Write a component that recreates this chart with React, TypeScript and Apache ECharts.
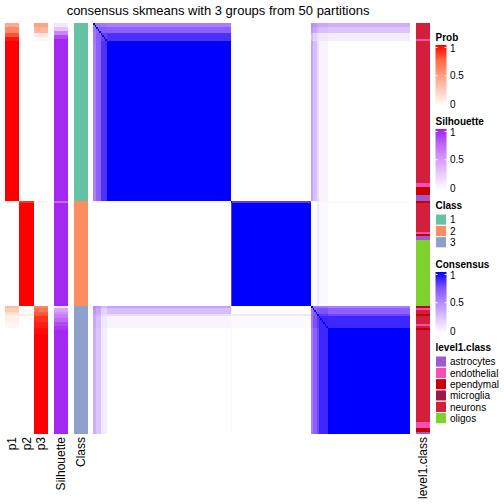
import React, { useEffect, useRef } from "react";
import * as echarts from "echarts";

const FONT = "'Liberation Sans', Arial, Helvetica, sans-serif";
const TITLE = "consensus skmeans with 3 groups from 50 partitions";

// 205 samples in heatmap order; runs are [count, value]
const N = 205;
const probLabels = ["p1", "p2", "p3"];
const p1Runs: [number, number][] = [
  [2, 0.45], [3, 0.6], [2, 0.8], [2, 0.95], [80, 1],
  [1, 0.08], [51, 0],
  [1, 0.35], [2, 0.27], [1, 0.18], [1, 0.12], [3, 0.08], [3, 0.05], [53, 0],
];
const p2Runs: [number, number][] = [
  [89, 0],
  [1, 0.88], [51, 1],
  [4, 0], [1, 0.1], [59, 0],
];
const p3Runs: [number, number][] = [
  [2, 0.48], [3, 0.38], [2, 0.12], [2, 0.04], [80, 0],
  [1, 0.06], [51, 0],
  [1, 0.62], [2, 0.7], [1, 0.78], [1, 0.8], [3, 0.88], [3, 0.93], [3, 0.97], [50, 1],
];
const silhouetteRuns: [number, number][] = [
  [2, 0.12], [2, 0.3], [2, 0.6], [2, 0.85], [81, 0.97],
  [1, 0.72], [51, 0.97],
  [1, 0.1], [2, 0.45], [1, 0.55], [2, 0.65], [2, 0.75], [2, 0.85], [2, 0.92], [52, 0.97],
];
const classNames = ["1", "2", "3"];
const classColors = ["#66C2A5", "#FC8D62", "#8DA0CB"];
const classRuns: [number, string][] = [[89, "1"], [52, "2"], [64, "3"]];

const level1Names = ["astrocytes", "endothelial", "ependymal", "microglia", "neurons", "oligos"];
const level1Colors = ["#9E5ACF", "#F54FB5", "#CC0000", "#A01A48", "#D11F3C", "#7FD12F"];
const level1Runs: [number, string][] = [
  [8, "neurons"], [1, "endothelial"], [71, "neurons"], [2, "endothelial"], [4, "ependymal"], [3, "astrocytes"],
  [1, "ependymal"], [14, "neurons"], [1, "endothelial"], [1, "ependymal"], [2, "astrocytes"], [33, "oligos"],
  [1, "ependymal"], [1, "endothelial"], [2, "neurons"], [1, "ependymal"], [4, "neurons"], [1, "endothelial"],
  [1, "neurons"], [1, "ependymal"], [46, "neurons"], [3, "endothelial"], [2, "ependymal"], [1, "astrocytes"],
];

// consensus matrix summarised by contiguous sample groups
const consensusGroups: [number, string][] = [
  [2, "c1a"], [3, "c1b"], [4, "c1c"], [80, "c1core"],
  [1, "c2a"], [51, "c2core"],
  [1, "c3a"], [3, "c3b"], [1, "c3c"], [6, "c3d"], [53, "c3core"],
];
const consensusMatrix: number[][] = [
  [0.62, 0.6, 0.58, 0.55, 0.04, 0, 0.5, 0.45, 0.4, 0.38, 0.35],
  [0.6, 0.66, 0.7, 0.68, 0.04, 0, 0.45, 0.38, 0.32, 0.28, 0.25],
  [0.58, 0.7, 0.8, 0.85, 0.04, 0, 0.3, 0.2, 0.14, 0.1, 0.08],
  [0.55, 0.68, 0.85, 1, 0.03, 0, 0.4, 0.28, 0.15, 0.05, 0.005],
  [0.04, 0.04, 0.04, 0.03, 1, 0.82, 0.04, 0.04, 0.06, 0.04, 0.03],
  [0, 0, 0, 0, 0.82, 1, 0, 0, 0.1, 0.02, 0],
  [0.5, 0.45, 0.3, 0.4, 0.04, 0, 0.6, 0.6, 0.6, 0.58, 0.55],
  [0.45, 0.38, 0.2, 0.28, 0.04, 0, 0.6, 0.68, 0.72, 0.75, 0.68],
  [0.4, 0.32, 0.14, 0.15, 0.06, 0.1, 0.6, 0.72, 1, 0.82, 0.78],
  [0.38, 0.28, 0.1, 0.05, 0.04, 0.02, 0.58, 0.75, 0.82, 0.88, 0.88],
  [0.35, 0.25, 0.08, 0.005, 0.03, 0, 0.55, 0.68, 0.78, 0.88, 1],
];

const probColors = ["#FFFFFF", "#FFCFBF", "#FF9E81", "#FF6846", "#FF0000"];
const silColors = ["#FFFFFF", "#EDCDFD", "#D79AFA", "#BE66F5", "#A020F0"];
const consColors = ["#FFFFFF", "#DCC5FF", "#B38BFF", "#7E51FF", "#0000FF"];
const legendTickValues = [1, 0.5, 0];
const legendTickLabels = ["1", "0.5", "0"];

function segments<T>(runs: [number, T][]): [number, number, T][] {
  let s = 0;
  const out: [number, number, T][] = [];
  for (const [n, v] of runs) {
    out.push([s, s + n, v]);
    s += n;
  }
  return out;
}

const TOP = 23;
const HEIGHT = 411;

export default function App() {
  const ref = useRef<HTMLDivElement>(null);
  useEffect(() => {
    if (!ref.current) return;
    const chart = echarts.init(ref.current, undefined, { renderer: "svg" });

    const probData = [p1Runs, p2Runs, p3Runs].flatMap((runs, k) =>
      segments(runs).map(([s, e, v]) => [k, s, e, v])
    );
    const silData = segments(silhouetteRuns).map(([s, e, v]) => [0, s, e, v]);
    const classData = segments(classRuns).map(([s, e, v]) => [0, s, e, classNames.indexOf(v)]);
    const levelData = segments(level1Runs).map(([s, e, v]) => [0, s, e, level1Names.indexOf(v)]);
    const gs = segments(consensusGroups);
    const consData: number[][] = [];
    gs.forEach((ri, i) => {
      gs.forEach((cj, j) => {
        consData.push([cj[0], cj[1], ri[0], ri[1], consensusMatrix[i][j]]);
      });
    });
    for (let t = 0; t < N; t++) consData.push([t, t + 1, t, t + 1, 1]);

    const stripRender = (colorFn: (api: any) => string) => (params: any, api: any) => {
      const x = api.value(0);
      const a = api.coord([x, api.value(1)]);
      const b = api.coord([x, api.value(2)]);
      const w = api.size([1, 0])[0];
      const x0 = Math.round(a[0] - w / 2);
      const x1 = Math.round(a[0] + w / 2);
      const y0 = Math.round(a[1]);
      const y1 = Math.round(b[1]);
      return {
        type: "rect",
        shape: { x: x0, y: y0, width: x1 - x0, height: y1 - y0 },
        style: { fill: colorFn(api) },
      };
    };

    const catAxis = (gridIndex: number, data: string[]) => ({
      type: "category",
      gridIndex,
      data,
      axisLine: { show: false },
      axisTick: { show: false },
      splitLine: { show: false },
      axisLabel: { interval: 0, rotate: 90, fontSize: 12, color: "#000", margin: 3, fontFamily: FONT },
    });
    const yAx = (gridIndex: number) => ({
      type: "value", gridIndex, min: 0, max: N, inverse: true, show: false,
    });

    const legendX = 435.5;
    const legendW = 11;
    const gradientLegend = (title: string, top: number, colors: string[]) => {
      const els: any[] = [
        { type: "text", x: legendX, y: top - 8, style: { text: title, font: `bold 10px ${FONT}`, fill: "#000", align: "left", verticalAlign: "middle", textAlign: "left", textVerticalAlign: "middle" } },
        {
          type: "rect",
          shape: { x: legendX, y: top, width: legendW, height: 61 },
          style: {
            fill: {
              type: "linear", x: 0, y: 0, x2: 0, y2: 1,
              colorStops: colors.slice().reverse().map((c, i) => ({ offset: i / (colors.length - 1), color: c })),
            },
          },
        },
      ];
      legendTickValues.forEach((v, i) => {
        const y = top + 2.5 + (1 - v) * 56.5;
        if (v > 0) {
          els.push({ type: "line", shape: { x1: legendX, y1: y, x2: legendX + 2, y2: y }, style: { stroke: "#FFFFFF", lineWidth: 1 } });
          els.push({ type: "line", shape: { x1: legendX + legendW - 2, y1: y, x2: legendX + legendW, y2: y }, style: { stroke: "#FFFFFF", lineWidth: 1 } });
        }
        els.push({ type: "text", x: 450, y: y + (v === 1 ? 0.5 : 0), style: { text: legendTickLabels[i], font: `10px ${FONT}`, fill: "#000", align: "left", verticalAlign: "middle", textAlign: "left", textVerticalAlign: "middle" } });
      });
      return els;
    };
    const discreteLegend = (title: string, titleY: number, names: string[], colors: string[]) => {
      const els: any[] = [
        { type: "text", x: legendX, y: titleY, style: { text: title, font: `bold 10px ${FONT}`, fill: "#000", align: "left", verticalAlign: "middle", textAlign: "left", textVerticalAlign: "middle" } },
      ];
      names.forEach((n, i) => {
        const y = titleY + 9 + i * 11.3;
        els.push({ type: "rect", shape: { x: legendX, y, width: legendW, height: 11.3 }, style: { fill: colors[i], stroke: "#FFFFFF", lineWidth: 1 } });
        els.push({ type: "text", x: 450, y: y + 5.8, style: { text: n, font: `10px ${FONT}`, fill: "#000", align: "left", verticalAlign: "middle", textAlign: "left", textVerticalAlign: "middle" } });
      });
      return els;
    };

    const graphics: any[] = [
      { type: "text", x: 218, y: 10, style: { text: TITLE, font: `13px ${FONT}`, fill: "#000", align: "center", verticalAlign: "middle", textAlign: "center", textVerticalAlign: "middle" } },
      ...gradientLegend("Prob", 45, probColors),
      ...gradientLegend("Silhouette", 129, silColors),
      ...discreteLegend("Class", 205, classNames, classColors),
      ...gradientLegend("Consensus", 272, consColors),
      ...discreteLegend("level1.class", 347, level1Names, level1Colors),
    ];

    chart.setOption({
      animation: false,
      backgroundColor: "#FFFFFF",
      grid: [
        { left: 5, top: TOP, width: 43, height: HEIGHT },
        { left: 54, top: TOP, width: 14, height: HEIGHT },
        { left: 74, top: TOP, width: 14, height: HEIGHT },
        { left: 93, top: TOP, width: 317, height: HEIGHT },
        { left: 416, top: TOP, width: 14, height: HEIGHT },
      ],
      xAxis: [
        catAxis(0, probLabels),
        catAxis(1, ["Silhouette"]),
        catAxis(2, ["Class"]),
        { type: "value", gridIndex: 3, min: 0, max: N, show: false },
        catAxis(4, ["level1.class"]),
      ],
      yAxis: [yAx(0), yAx(1), yAx(2), yAx(3), yAx(4)],
      visualMap: [
        { type: "continuous", show: false, seriesIndex: 0, dimension: 3, min: 0, max: 1, inRange: { color: probColors } },
        { type: "continuous", show: false, seriesIndex: 1, dimension: 3, min: 0, max: 1, inRange: { color: silColors } },
        { type: "continuous", show: false, seriesIndex: 4, dimension: 4, min: 0, max: 1, inRange: { color: consColors } },
      ],
      series: [
        { type: "custom", xAxisIndex: 0, yAxisIndex: 0, data: probData, encode: { x: 0, y: [1, 2] }, renderItem: stripRender((api) => api.visual("color")) },
        { type: "custom", xAxisIndex: 1, yAxisIndex: 1, data: silData, encode: { x: 0, y: [1, 2] }, renderItem: stripRender((api) => api.visual("color")) },
        { type: "custom", xAxisIndex: 2, yAxisIndex: 2, data: classData, encode: { x: 0, y: [1, 2] }, renderItem: stripRender((api) => classColors[api.value(3)]) },
        { type: "custom", xAxisIndex: 4, yAxisIndex: 4, data: levelData, encode: { x: 0, y: [1, 2] }, renderItem: stripRender((api) => level1Colors[api.value(3)]) },
        {
          type: "custom", xAxisIndex: 3, yAxisIndex: 3, data: consData, encode: { x: [0, 1], y: [2, 3] },
          renderItem: (params: any, api: any) => {
            const a = api.coord([api.value(0), api.value(2)]);
            const b = api.coord([api.value(1), api.value(3)]);
            const x0 = Math.round(a[0]);
            const x1 = Math.round(b[0]);
            const y0 = Math.round(a[1]);
            const y1 = Math.round(b[1]);
            return {
              type: "rect",
              shape: { x: x0, y: y0, width: Math.max(1, x1 - x0), height: y1 - y0 },
              style: { fill: api.visual("color") },
            };
          },
        },
      ],
      graphic: graphics,
    });
    return () => chart.dispose();
  }, []);
  return <div ref={ref} style={{ position: "absolute", left: 0, top: 0, width: 504, height: 504 }} />;
}
